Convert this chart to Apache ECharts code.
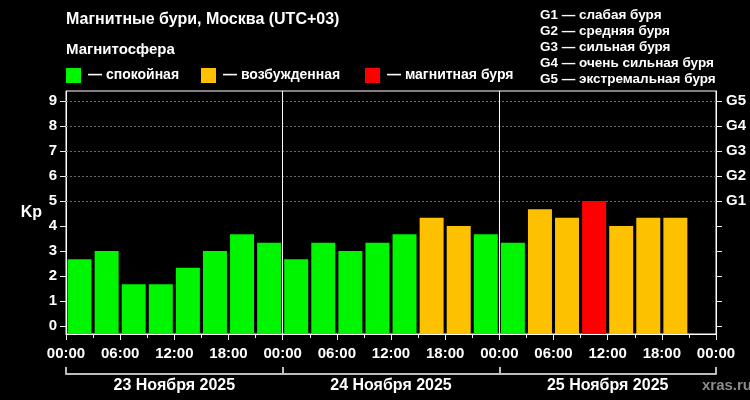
<!DOCTYPE html>
<html><head><meta charset="utf-8">
<script src="https://cdn.jsdelivr.net/npm/echarts@6/dist/echarts.min.js"></script>
<style>html,body{margin:0;padding:0;background:#000}#c{width:750px;height:400px}</style>
</head><body><div id="c"></div>
<script>
// Kp index per 3-hour interval, Moscow time (UTC+03)
const kpValues = [
  2.67, 3.00, 1.67, 1.67, 2.33, 3.00, 3.67, 3.33,
  2.67, 3.33, 3.00, 3.33, 3.67, 4.33, 4.00, 3.67,
  3.33, 4.67, 4.33, 5.00, 4.00, 4.33, 4.33
];
const dayLabels = ['23 Ноября 2025', '24 Ноября 2025', '25 Ноября 2025'];
const kpTicks = [0, 1, 2, 3, 4, 5, 6, 7, 8, 9];
const gLabels = ['G1', 'G2', 'G3', 'G4', 'G5'];
const gLevels = [5, 6, 7, 8, 9];
const gDescriptions = [
  'G1 — слабая буря', 'G2 — средняя буря', 'G3 — сильная буря',
  'G4 — очень сильная буря', 'G5 — экстремальная буря'
];
const legendItems = ['— спокойная', '— возбужденная', '— магнитная буря'];
const hoursPerBar = 3;
const hoursTotal = 72;

const FONT = '"Liberation Sans", Arial, sans-serif';
const GREEN = '#00f500', ORANGE = '#fdc100', RED = '#ff0000';
const legendColors = [GREEN, ORANGE, RED];
function kpColor(v) { return v >= 5 ? RED : (v >= 4 ? ORANGE : GREEN); }

const barData = kpValues.map((v, i) => [i * hoursPerBar + hoursPerBar / 2, v]);

const chart = echarts.init(document.getElementById('c'), null, {renderer: 'canvas'});
const txt = (x, y, text, size, extra) => Object.assign({
  type: 'text', x: x, y: y,
  style: Object.assign({text: text, fill: '#fff', font: 'bold ' + size + 'px ' + FONT,
    verticalAlign: 'middle', align: 'left'}, extra || {})
});

const graphics = [
  txt(66, 20, 'Магнитные бури, Москва (UTC+03)', 16),
  txt(66, 50, 'Магнитосфера', 15),
  txt(702, 386, 'xras.ru', 15, {fill: '#8c8c8c'})
];
const legendX = [66, 201, 365];
legendItems.forEach((t, i) => {
  graphics.push({type: 'rect', shape: {x: legendX[i], y: 68, width: 15, height: 15},
    style: {fill: legendColors[i]}});
  graphics.push(txt(legendX[i] + 22, 75.5, t, 14));
});
gDescriptions.forEach((t, i) => graphics.push(txt(540, 15 + i * 16, t, 13.5)));

chart.setOption({
  backgroundColor: '#000',
  animation: false,
  textStyle: {fontFamily: FONT},
  grid: {left: 66, right: 34, top: 91, bottom: 66, show: true,
    borderColor: '#fff', borderWidth: 1, backgroundColor: 'transparent'},
  graphic: graphics,
  xAxis: [{
    type: 'value', min: 0, max: hoursTotal, interval: 6, position: 'bottom',
    axisLine: {show: true, onZero: false, lineStyle: {color: '#fff', width: 1}},
    axisTick: {show: true, length: 6, lineStyle: {color: '#eee'}},
    minorTick: {show: true, splitNumber: 2, length: 4, lineStyle: {color: '#eee'}},
    splitLine: {show: false},
    axisLabel: {color: '#fff', fontWeight: 'bold', fontSize: 15, margin: 12,
      formatter: v => String(v % 24).padStart(2, '0') + ':00'}
  }, {
    type: 'value', min: 0, max: hoursTotal, position: 'bottom', offset: 40,
    axisLine: {show: true, onZero: false, lineStyle: {color: '#bdbdbd', width: 2}},
    axisTick: {show: true, inside: true, length: 7, customValues: [0, 24, 48, 72],
      lineStyle: {color: '#bdbdbd', width: 2}},
    splitLine: {show: false},
    axisLabel: {color: '#fff', fontWeight: 'bold', fontSize: 16, margin: 4,
      customValues: [12, 36, 60], formatter: v => dayLabels[Math.floor(v / 24)]}
  }],
  yAxis: [{
    type: 'value', min: -0.32, max: 9.4, startValue: -0.32, position: 'left',
    name: 'Kp', nameLocation: 'middle', nameRotate: 0, nameGap: 24,
    nameTextStyle: {color: '#fff', fontWeight: 'bold', fontSize: 16},
    axisLine: {show: true, onZero: false, lineStyle: {color: '#fff'}},
    axisTick: {show: true, length: 6, customValues: kpTicks, lineStyle: {color: '#eee'}},
    splitLine: {show: false},
    axisLabel: {color: '#fff', fontWeight: 'bold', fontSize: 15, margin: 9,
      customValues: kpTicks}
  }, {
    type: 'value', min: -0.32, max: 9.4, startValue: -0.32, position: 'right',
    axisLine: {show: true, onZero: false, lineStyle: {color: '#fff'}},
    axisTick: {show: true, length: 6, customValues: kpTicks, lineStyle: {color: '#eee'}},
    splitLine: {show: false},
    axisLabel: {color: '#fff', fontWeight: 'bold', fontSize: 15, margin: 10,
      customValues: gLevels, formatter: v => gLabels[gLevels.indexOf(v)]}
  }],
  series: [{
    type: 'bar', data: barData, barWidth: 24, xAxisIndex: 0, yAxisIndex: 0,
    itemStyle: {color: p => kpColor(p.value[1])},
    z: 3,
    markLine: {
      silent: true, symbol: 'none', label: {show: false}, z: 1,
      lineStyle: {color: '#6a6a6a', type: [2, 2], width: 1},
      data: gLevels.map(g => ({yAxis: g}))
    }
  }, {
    type: 'line', data: [], xAxisIndex: 0, yAxisIndex: 0,
    markLine: {
      silent: true, symbol: 'none', label: {show: false}, z: 5,
      lineStyle: {color: '#fff', type: 'solid', width: 1},
      data: [{xAxis: 24}, {xAxis: 48}]
    }
  }]
});
</script></body></html>
